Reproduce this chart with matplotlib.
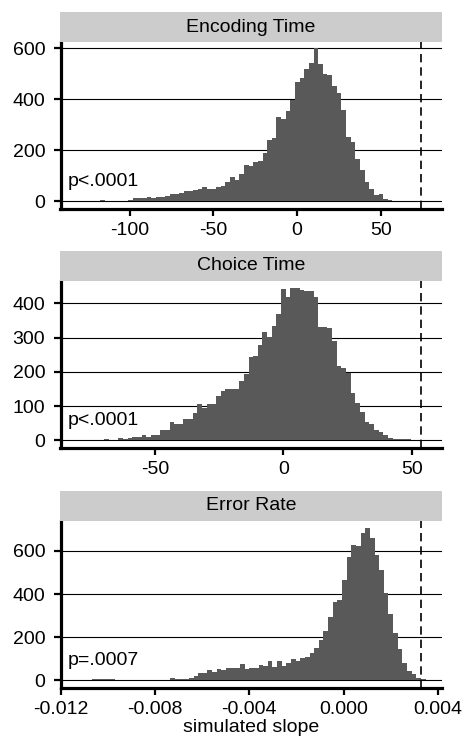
import numpy as np
import matplotlib
matplotlib.use("Agg")
import matplotlib.pyplot as plt

plt.rcParams["font.family"] = ["Liberation Sans", "DejaVu Sans"]

# --- data (histogram bin counts) ---
titles = ["Encoding Time", "Choice Time", "Error Rate"]
p_labels = ["p<.0001", "p<.0001", "p=.0007"]

enc_start = -131.38
enc_width = 2.77
enc_counts = [1, 2, 1, 2, 2, 4, 2, 2, 3, 3, 3, 7, 12, 13, 14, 17, 14, 16, 18, 22,
              28, 28, 33, 40, 42, 44, 47, 55, 48, 50, 57, 61, 76, 96, 84, 109, 142,
              138, 155, 158, 188, 241, 247, 330, 324, 355, 399, 468, 484, 517, 543,
              603, 537, 500, 495, 451, 425, 359, 254, 234, 168, 122, 76, 47, 24, 30,
              11, 4, 2, 1, 1, 0, 1, 0]
enc_observed = 74.1

cho_start = -80.54
cho_width = 1.81
cho_counts = [1, 1, 0, 1, 1, 2, 4, 1, 2, 6, 5, 7, 9, 9, 16, 11, 14, 14, 29, 29,
              52, 48, 48, 62, 62, 81, 107, 93, 105, 106, 129, 144, 150, 150, 150,
              174, 193, 242, 247, 279, 316, 301, 334, 368, 442, 417, 446, 446, 439,
              437, 436, 418, 332, 332, 327, 290, 218, 210, 196, 139, 108, 84, 52,
              47, 30, 24, 16, 8, 5, 4, 3, 3, 2, 1]
cho_observed = 53.5

err_start = -0.011294
err_width = 0.000197
err_counts = [3, 3, 3, 4, 4, 4, 4, 4, 3, 3, 3, 3, 2, 2, 2, 2, 2, 2, 2, 3,
              9, 6, 6, 7, 12, 22, 32, 36, 46, 40, 51, 50, 56, 56, 59, 74, 51, 58,
              56, 71, 67, 90, 60, 90, 67, 82, 99, 90, 102, 108, 128, 152, 187, 229,
              295, 362, 373, 466, 571, 628, 623, 682, 705, 662, 582, 512, 407, 306,
              221, 144, 82, 43, 29, 9, 6]
err_observed = 0.00329

x_ticks = [[-100, -50, 0, 50], [-50, 0, 50], [-0.012, -0.008, -0.004, 0.000, 0.004]]
x_ticklabels = [["-100", "-50", "0", "50"], ["-50", "0", "50"],
                ["-0.012", "-0.008", "-0.004", "0.000", "0.004"]]
y_ticks = [[0, 200, 400, 600], [0, 100, 200, 300, 400], [0, 200, 400, 600]]

# --- layout ---
W, H = 465, 740
fig = plt.figure(figsize=(W / 100, H / 100), dpi=100)

left = 60.5 / W
width = (442 - 60.5) / W
panel_tops = [42, 281, 521]
panel_h = 167
strip_h = 30

xlims = [(-141.3, 86.6), (-86.8, 61.8), (-0.01202, 0.00418)]
ylims = [(-29.4, 624.7), (-22.5, 465.1), (-35.7, 739)]

starts = [enc_start, cho_start, err_start]
widths = [enc_width, cho_width, err_width]
counts = [enc_counts, cho_counts, err_counts]
observed = [enc_observed, cho_observed, err_observed]

bar_color = "#595959"
strip_color = "#cccccc"

for i in range(3):
    top = panel_tops[i]
    ax = fig.add_axes([left, 1 - (top + panel_h) / H, width, panel_h / H])
    sax = fig.add_axes([left - 0.5 / W, 1 - top / H, width + 0.5 / W, strip_h / H])

    # strip header
    sax.set_facecolor(strip_color)
    sax.set_xticks([])
    sax.set_yticks([])
    for s in sax.spines.values():
        s.set_visible(False)
    sax.text(0.5, 0.5, titles[i], ha="center", va="center", fontsize=14,
             transform=sax.transAxes)

    # histogram
    n = len(counts[i])
    edges = starts[i] + widths[i] * np.arange(n)
    ax.bar(edges, counts[i], width=widths[i], align="edge", color=bar_color,
           linewidth=0, zorder=2)
    ax.axvline(observed[i], color="black", lw=1.2, ls=(0, (5, 3)), zorder=3)

    ax.set_xlim(*xlims[i])
    ax.set_ylim(*ylims[i])
    ax.set_xticks(x_ticks[i])
    ax.set_xticklabels(x_ticklabels[i])
    ax.set_yticks(y_ticks[i])

    ax.set_axisbelow(True)
    ax.yaxis.grid(True, color="black", lw=0.8)
    ax.xaxis.grid(False)

    ax.spines["top"].set_visible(False)
    ax.spines["right"].set_visible(False)
    ax.spines["left"].set_linewidth(2.3)
    ax.spines["bottom"].set_linewidth(2.3)
    ax.tick_params(axis="both", direction="out", length=5, width=1.6,
                   labelsize=14, color="black")
    ax.tick_params(axis="y", pad=6)
    ax.tick_params(axis="x", pad=4.5)

    ax.text(0.02, 0.14, p_labels[i], transform=ax.transAxes, fontsize=14,
            va="baseline", ha="left")

fig.text(251 / W, 1 - 728 / H, "simulated slope", ha="center", va="center",
         fontsize=14)

fig.savefig("out.png", dpi=100)
